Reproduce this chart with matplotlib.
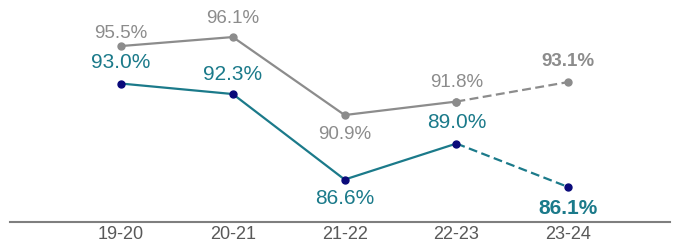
import matplotlib.pyplot as plt

plt.rcParams['font.family'] = ['Liberation Sans', 'DejaVu Sans']

# data
years = ['19-20', '20-21', '21-22', '22-23', '23-24']
grey_vals = [95.5, 96.1, 90.9, 91.8, 93.1]
teal_vals = [93.0, 92.3, 86.6, 89.0, 86.1]

# label offsets in pixels (positive = up)
grey_off = [13, 19, -19, 19, 21]
teal_off = [21, 20, -19, 21, -21]

grey = '#8c8c8c'
teal = '#1b7a8a'
navy = '#0a0a7a'

fig = plt.figure(figsize=(6.8, 2.43), dpi=100)
ax = fig.add_axes([10/680, 21/243, 660/680, 222/243])

x = list(range(len(years)))

# solid part then dashed forecast segment
ax.plot(x[:4], grey_vals[:4], color=grey, lw=1.6, marker='o', ms=5, zorder=2)
ax.plot(x[3:], grey_vals[3:], color=grey, lw=1.6, ls=(0, (4, 2)), marker='o', ms=5, zorder=2)
ax.plot(x[:4], teal_vals[:4], color=teal, lw=1.6, zorder=2)
ax.plot(x[3:], teal_vals[3:], color=teal, lw=1.6, ls=(0, (4, 2)), zorder=2)
ax.plot(x, teal_vals, ls='none', marker='o', ms=5, color=navy, zorder=3)

px = 72 / 100  # pixels -> points
for i, v in enumerate(grey_vals):
    ax.annotate(f'{v:.1f}%', (x[i], v), xytext=(0, grey_off[i] * px),
                textcoords='offset points', ha='center', va='center',
                fontsize=13.5, color=grey,
                fontweight='bold' if i == 4 else 'normal')
for i, v in enumerate(teal_vals):
    ax.annotate(f'{v:.1f}%', (x[i], v), xytext=(0, teal_off[i] * px),
                textcoords='offset points', ha='center', va='center',
                fontsize=15, color=teal,
                fontweight='bold' if i == 4 else 'normal')

ax.set_xlim(-0.993, 4.91)
ax.set_ylim(83.77, 98.57)
ax.set_xticks(x)
ax.set_xticklabels(years, fontsize=13, color='#595959')
ax.tick_params(axis='x', length=0, pad=3)
ax.set_yticks([])
for s in ['top', 'right', 'left']:
    ax.spines[s].set_visible(False)
ax.spines['bottom'].set_color('#7f7f7f')
ax.spines['bottom'].set_linewidth(1.5)

fig.savefig('out.png', dpi=100)
